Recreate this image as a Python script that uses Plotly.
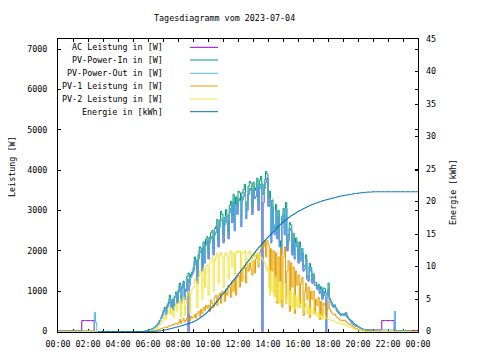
import pandas as pd
import plotly.graph_objects as go

# ---------------- data (5-minute readings) ----------------
times = pd.date_range("2023-07-04 00:00", periods=289, freq="5min")

# night before sunrise, 00:00 .. 04:55 (60 values)
ac_am = [20] * 19 + [270] * 10 + [0] * 31
out_am = [20] * 29 + [470, 230] + [0] * 29
in_am = [0] * 60
pv1_am = [0] * 60
pv2_am = [0] * 60
en_am = [None] * 32 + [0] * 28

# daytime rows 05:00 .. 20:55, one row per hour
pv_in_day = [
    0, 0, 0, 0, 0, 0, 0, 0, 5, 10, 15, 20,
    30, 40, 55, 70, 90, 110, 140, 170, 215, 275, 340, 410,
    510, 600, 460, 640, 720, 900, 650, 800, 560, 880, 980, 760,
    1020, 1200, 760, 1130, 1250, 850, 1050, 1370, 1450, 1200, 1420, 1480,
    1580, 1850, 1760, 1350, 1900, 2100, 2060, 1620, 2220, 1800, 2280, 2350,
    1950, 2330, 2450, 2500, 2050, 2550, 2600, 2780, 2260, 2760, 2980, 2900,
    2400, 2830, 3020, 2880, 2480, 3120, 3230, 2880, 3400, 2700, 3340, 3100,
    3480, 3440, 2800, 3440, 3520, 3650, 3000, 3220, 3600, 3720, 3680, 3100,
    3700, 3500, 3560, 3800, 3200, 3750, 3850, 3650, 3400, 3760, 3970, 3900,
    3300, 3480, 2400, 3260, 2650, 2550, 3150, 2450, 3000, 2250, 2050, 2850,
    3050, 2550, 3200, 2150, 2400, 2700, 2640, 2000, 2430, 1900, 2320, 2220,
    1800, 2220, 1850, 2060, 1600, 1640, 1900, 1380, 1330, 1690, 1590, 1280,
    1430, 1220, 1220, 1110, 1170, 1010, 1110, 850, 1080, 1060, 950, 900,
    1200, 820, 760, 690, 640, 660, 590, 530, 490, 450, 420, 440,
    420, 450, 400, 350, 315, 295, 280, 250, 210, 180, 160, 140,
    120, 100, 80, 65, 55, 45, 35, 25, 20, 15, 10, 8,
]
pv_out_day = [
    0, 0, 0, 0, 0, 0, 0, 0, 0, 5, 10, 15,
    25, 35, 50, 65, 85, 100, 130, 160, 200, 260, 320, 390,
    480, 560, 420, 600, 680, 820, 600, 760, 520, 850, 940, 700,
    980, 1150, 700, 1080, 1200, 800, 1000, 1300, 0, 1150, 1350, 1420,
    1500, 1750, 1650, 1200, 1800, 2000, 1950, 1500, 2100, 1700, 2150, 2250,
    1800, 2200, 2300, 2350, 1900, 2400, 2450, 2600, 2100, 2600, 2800, 2750,
    2200, 2650, 2850, 2700, 2300, 2950, 3050, 2700, 3200, 2500, 3150, 2900,
    3300, 3250, 2600, 3250, 3350, 3450, 2800, 3000, 3400, 3550, 3500, 2900,
    3500, 3300, 3350, 3600, 3000, 3550, 3650, 0, 3200, 3550, 3700, 3800,
    3100, 3300, 2200, 3100, 2500, 2400, 3000, 2300, 2850, 2100, 1900, 2700,
    2900, 2400, 3050, 2000, 2250, 2550, 2500, 1900, 2300, 1800, 2200, 2100,
    1700, 2100, 1750, 1950, 1500, 1550, 1800, 1300, 1250, 1600, 1500, 1200,
    1350, 1150, 1150, 1050, 1100, 950, 1050, 800, 1000, 900, 0, 850,
    1050, 780, 720, 650, 600, 630, 560, 500, 460, 430, 400, 420,
    400, 430, 470, 380, 330, 280, 240, 200, 170, 150, 130, 120,
    110, 90, 75, 60, 50, 45, 40, 40, 40, 40, 40, 40,
]
pv1_day = [
    0, 0, 0, 0, 0, 0, 0, 0, 0, 0, 0, 0,
    0, 0, 5, 10, 15, 20, 30, 40, 50, 60, 70, 80,
    90, 100, 110, 100, 130, 150, 140, 170, 160, 190, 200, 180,
    220, 300, 200, 260, 320, 240, 280, 350, 300, 260, 380, 330,
    360, 420, 330, 450, 500, 380, 550, 450, 600, 520, 650, 580,
    650, 500, 780, 700, 600, 850, 900, 650, 880, 950, 700, 1000,
    960, 750, 1050, 900, 1150, 1100, 850, 1250, 1000, 1300, 900, 1350,
    1400, 1100, 1500, 1250, 1550, 1600, 1200, 1650, 1500, 1700, 1550, 1400,
    1750, 1450, 1800, 1900, 1600, 1950, 2050, 2150, 2100, 2250, 1850, 2250,
    2150, 1100, 2050, 1500, 2000, 900, 1950, 700, 1850, 1250, 2050, 600,
    1850, 2100, 700, 1500, 1750, 500, 1700, 1100, 1600, 450, 1500, 1150,
    1400, 600, 1200, 1350, 400, 1000, 1200, 800, 1100, 350, 1000, 800,
    1000, 450, 800, 650, 850, 300, 750, 400, 700, 650, 300, 550,
    750, 550, 500, 450, 420, 430, 380, 350, 320, 290, 270, 280,
    260, 280, 250, 220, 190, 170, 160, 140, 110, 90, 70, 60,
    50, 40, 30, 25, 20, 15, 10, 5, 0, 0, 0, 0,
]
pv2_day = [
    0, 0, 0, 0, 0, 0, 0, 0, 0, 0, 0, 0,
    0, 5, 15, 25, 40, 55, 75, 100, 130, 170, 210, 260,
    320, 380, 300, 420, 480, 600, 420, 550, 350, 620, 700, 500,
    700, 800, 350, 750, 850, 400, 650, 900, 1000, 450, 950, 1050,
    1100, 1300, 1250, 600, 1350, 1500, 1450, 800, 1550, 1100, 1600, 1650,
    900, 1700, 1750, 1850, 1000, 1750, 1850, 1950, 1200, 1900, 1950, 1850,
    1100, 1900, 1950, 1850, 1300, 1950, 2000, 1600, 1950, 1400, 1950, 2000,
    1950, 2000, 1500, 1950, 1950, 2000, 1600, 1800, 1950, 2000, 1900, 1650,
    1950, 1850, 1900, 1950, 1700, 1900, 1850, 1800, 1750, 1700, 1600, 1500,
    1600, 900, 1500, 1000, 1400, 850, 1350, 750, 1250, 700, 1200, 800,
    1150, 1200, 700, 900, 1050, 650, 1000, 600, 950, 550, 900, 600,
    850, 600, 700, 780, 520, 600, 700, 450, 620, 420, 580, 450,
    550, 420, 480, 380, 450, 350, 420, 300, 380, 370, 330, 320,
    300, 290, 280, 270, 260, 250, 240, 220, 210, 200, 190, 180,
    170, 180, 160, 140, 120, 110, 100, 90, 75, 60, 50, 40,
    30, 25, 20, 15, 10, 5, 0, 0, 0, 0, 0, 0,
]
energy_day = [
    0, 0, 0, 0, 0, 0, 0, 0, 0, 0, 0, 0,
    0, 0, 0.01, 0.01, 0.02, 0.03, 0.04, 0.06, 0.08, 0.1, 0.13, 0.16,
    0.2, 0.24, 0.28, 0.32, 0.36, 0.41, 0.46, 0.51, 0.56, 0.61, 0.66, 0.7,
    0.75, 0.8, 0.86, 0.92, 0.98, 1.04, 1.1, 1.16, 1.22, 1.29, 1.36, 1.43,
    1.5, 1.6, 1.7, 1.82, 1.95, 2.08, 2.22, 2.36, 2.5, 2.65, 2.8, 3.0,
    3.2, 3.4, 3.6, 3.8, 4.0, 4.2, 4.45, 4.7, 4.95, 5.2, 5.45, 5.7,
    5.9, 6.15, 6.4, 6.65, 6.9, 7.15, 7.4, 7.65, 7.9, 8.15, 8.4, 8.65,
    8.9, 9.15, 9.4, 9.65, 9.9, 10.15, 10.4, 10.65, 10.9, 11.15, 11.4, 11.65,
    11.9, 12.15, 12.4, 12.65, 12.9, 13.1, 13.3, 13.5, 13.75, 14.0, 14.2, 14.4,
    14.6, 14.8, 15.0, 15.2, 15.4, 15.6, 15.8, 16.0, 16.2, 16.4, 16.55, 16.7,
    16.9, 17.05, 17.2, 17.35, 17.5, 17.65, 17.8, 17.9, 18.0, 18.15, 18.25, 18.4,
    18.5, 18.6, 18.7, 18.8, 18.9, 19.0, 19.1, 19.2, 19.3, 19.4, 19.45, 19.55,
    19.6, 19.7, 19.75, 19.8, 19.9, 19.95, 20.0, 20.1, 20.15, 20.2, 20.25, 20.3,
    20.35, 20.4, 20.45, 20.5, 20.55, 20.6, 20.65, 20.7, 20.75, 20.8, 20.85, 20.87,
    20.9, 20.95, 21.0, 21.0, 21.05, 21.1, 21.1, 21.15, 21.2, 21.2, 21.25, 21.25,
    21.3, 21.3, 21.35, 21.35, 21.4, 21.4, 21.4, 21.45, 21.45, 21.45, 21.45, 21.48,
]

# evening 21:00 .. 24:00 (37 values)
ac_pm = [40] * 7 + [270] * 10 + [25] * 14 + [25] * 6
out_pm = [40] * 17 + [500] + [25] * 13 + [0] * 6
in_pm = [5] + [0] * 36
pv1_pm = [0] * 37
pv2_pm = [0] * 37
en_pm = [21.5] * 37

# AC output reads the same as PV-Power-Out during the day (hidden beneath it)
ac_w = ac_am + pv_out_day + ac_pm
pv_in_w = in_am + pv_in_day + in_pm
pv_out_w = out_am + pv_out_day + out_pm
pv1_w = pv1_am + pv1_day + pv1_pm
pv2_w = pv2_am + pv2_day + pv2_pm
energy_kwh = en_am + energy_day + en_pm

series = [
    ("AC Leistung in [W]", ac_w, "#9400d3", "y"),
    ("PV-Power-In in [W]", pv_in_w, "#009e73", "y"),
    ("PV-Power-Out in [W]", pv_out_w, "#56b4e9", "y"),
    ("PV-1 Leistung in [W]", pv1_w, "#e69f00", "y"),
    ("PV-2 Leistung in [W]", pv2_w, "#f0e442", "y"),
    ("Energie in [kWh]", energy_kwh, "#0072b2", "y2"),
]

# ---------------- figure ----------------
# the page has an 8px body margin, so the figure is shifted/shrunk by 8px
OFF = 8
W, H = 480 - OFF, 360 - OFF
L, R, T, B = 58, 418, 39, 332          # plot area in window pixels
FONT = dict(family="DejaVu Sans Mono", size=8.4, color="black")


def px(x):
    return (x - L) / (R - L)


def py(y):
    return (B - y) / (B - T)


fig = go.Figure()
for name, vals, col, ax in series:
    fig.add_trace(go.Scatter(
        x=times, y=vals, name=name, yaxis=ax, mode="lines",
        line=dict(color=col, width=1, shape="hv"),
        connectgaps=False, showlegend=False,
    ))

annotations = [
    dict(text="Tagesdiagramm vom 2023-07-04", x=px(224), y=py(18),
         xref="paper", yref="paper", showarrow=False, font=FONT,
         xanchor="center", yanchor="middle"),
    dict(text="Leistung [W]", x=px(12), y=py(167), xref="paper", yref="paper",
         showarrow=False, font=FONT, textangle=-90,
         xanchor="center", yanchor="middle"),
    dict(text="Energie [kWh]", x=px(453), y=py(192), xref="paper", yref="paper",
         showarrow=False, font=FONT, textangle=-90,
         xanchor="center", yanchor="middle"),
]
shapes = []
rows_y = [47.3, 60, 73.3, 86, 99, 111.7]
for (name, _, col, _), ry in zip(series, rows_y):
    annotations.append(dict(text=name, x=px(165), y=py(ry), xref="paper",
                            yref="paper", showarrow=False, font=FONT,
                            xanchor="right", yanchor="middle"))
    shapes.append(dict(type="line", xref="paper", yref="paper",
                       x0=px(190), x1=px(218), y0=py(ry), y1=py(ry),
                       line=dict(color=col, width=1)))

fig.update_layout(
    width=W, height=H,
    margin=dict(l=L - OFF, r=W - (R - OFF), t=T - OFF, b=H - (B - OFF), pad=0,
                autoexpand=False),
    paper_bgcolor="white", plot_bgcolor="white",
    font=FONT, showlegend=False,
    annotations=annotations, shapes=shapes,
    xaxis=dict(
        type="date", range=["2023-07-04 00:00", "2023-07-05 00:00"],
        tick0="2023-07-04 00:00", dtick=7200000, tickformat="%H:%M",
        ticks="inside", ticklen=3, tickcolor="black",
        minor=dict(dtick=3600000, ticks="inside", ticklen=3, tickcolor="black"),
        showline=True, linecolor="black", linewidth=1, mirror="ticks",
        showgrid=False, zeroline=False, tickfont=FONT, ticklabelstandoff=4,
        layer="below traces", automargin=False,
    ),
    yaxis=dict(
        range=[-12, 7250], dtick=1000, tick0=0,
        ticks="inside", ticklen=3, tickcolor="black",
        showline=True, linecolor="black", linewidth=1, mirror="ticks",
        showgrid=False, zeroline=False, tickfont=FONT, ticklabelstandoff=8,
        layer="below traces", automargin=False,
    ),
    yaxis2=dict(
        overlaying="y", side="right", range=[-0.075, 45], dtick=5, tick0=0,
        ticks="inside", ticklen=3, tickcolor="black",
        showline=False, showgrid=False, zeroline=False,
        tickfont=FONT, ticklabelstandoff=7, automargin=False,
    ),
)

fig.write_html("out.html")
